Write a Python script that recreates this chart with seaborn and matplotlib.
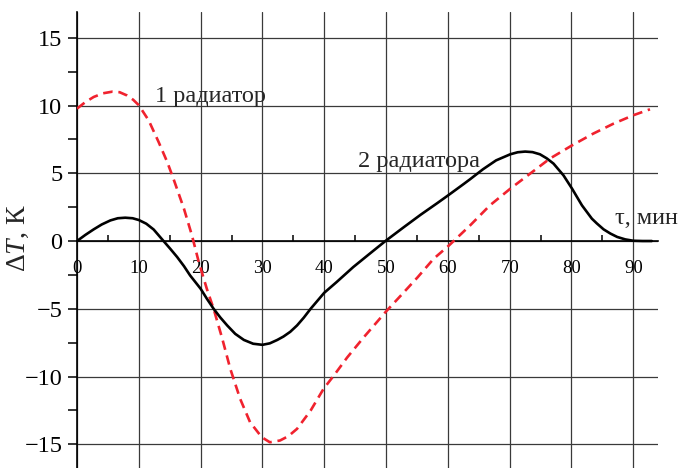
import numpy as np
import pandas as pd
import matplotlib
matplotlib.use("Agg")
import matplotlib.pyplot as plt
import seaborn as sns
from matplotlib.ticker import MultipleLocator

# --- данные ---
# 2 радиатора (сплошная)
t_two = [0, 1.35, 2.7, 4, 5.4, 6.6, 7.8, 9, 10, 11.2, 12.4, 14.0, 15.1, 16.2,
         17.3, 18.3, 20, 21, 22.1, 23.2, 24.3, 25.6, 27, 28.5, 30, 31.2, 32.4,
         33.4, 34.5, 35.6, 36.7, 37.8, 40, 42, 44.7, 47.4, 49.9, 52.9, 55.6,
         58.3, 60.2, 62.6, 63.6, 65.7, 67.8, 70.1, 71.3, 72.5, 73.7, 74.9, 76,
         77.1, 78.7, 80.1, 81.7, 83.3, 84.1, 85.2, 86.3, 87.4, 88.7, 90, 91.5, 93]
dT_two = [0, 0.45, 0.86, 1.22, 1.52, 1.68, 1.72, 1.68, 1.55, 1.28, 0.85, 0.0,
          -0.58, -1.18, -1.85, -2.54, -3.52, -4.25, -5.0, -5.65, -6.23, -6.85,
          -7.3, -7.58, -7.66, -7.55, -7.3, -7.05, -6.7, -6.23, -5.65, -5.0,
          -3.82, -3.03, -1.92, -0.92, 0, 1.03, 1.94, 2.8, 3.42, 4.22, 4.56,
          5.3, 5.95, 6.4, 6.55, 6.6, 6.56, 6.4, 6.1, 5.71, 4.85, 3.86, 2.63,
          1.65, 1.3, 0.86, 0.55, 0.3, 0.12, 0.02, 0.0, 0.0]

# 1 радиатор (штриховая)
t_one = [0, 1.35, 2.7, 4.2, 5.7, 6.9, 8.1, 9.1, 10, 11.6, 13.2, 14.6, 15.6,
         17.3, 18.6, 19.7, 21.0, 22.1, 23.5, 24.8, 26.4, 28.0, 29.9, 31.2,
         32.85, 34.2, 35.6, 37.8, 39.9, 41.6, 43.7, 46.4, 50, 52.4, 55.1, 57.7,
         60.2, 63.6, 66.8, 70.1, 73.3, 76.5, 80.1, 83.5, 86.8, 90, 92.7]
dT_one = [9.77, 10.25, 10.63, 10.9, 11.02, 10.98, 10.74, 10.42, 10.02, 8.9,
          7.31, 5.83, 4.6, 2.39, 0.41, -1.55, -3.52, -5.0, -7.2, -9.43, -11.65,
          -13.37, -14.48, -14.85, -14.72, -14.4, -13.86, -12.51, -10.9, -9.9,
          -8.6, -7.1, -5.2, -4.02, -2.68, -1.31, -0.32, 1.15, 2.63, 3.86, 4.97,
          6.08, 7.06, 7.92, 8.66, 9.28, 9.72]

x_major = [0, 10, 20, 30, 40, 50, 60, 70, 80, 90]
y_major = [-15, -10, -5, 0, 5, 10, 15]

# --- оформление ---
sns.set_theme(style="white")
plt.rcParams['font.family'] = ['Liberation Serif', 'DejaVu Serif']
plt.rcParams['mathtext.fontset'] = 'custom'
plt.rcParams['mathtext.rm'] = 'Liberation Serif'
plt.rcParams['mathtext.it'] = 'Liberation Serif:italic'

fig = plt.figure(figsize=(6.86, 4.68), dpi=100)
ax = fig.add_axes([77 / 686, 0, 581 / 686, 456 / 468])

df_one = pd.DataFrame({'t': t_one, 'dT': dT_one})
df_two = pd.DataFrame({'t': t_two, 'dT': dT_two})

sns.lineplot(data=df_one, x='t', y='dT', ax=ax, color='#f0222e', lw=1.9,
             zorder=4)
sns.lineplot(data=df_two, x='t', y='dT', ax=ax, color='black', lw=1.9,
             zorder=5)
red, black = ax.lines[0], ax.lines[1]
red.set_dashes((3.6, 2.2))
red.set_dash_capstyle('butt')
black.set_solid_joinstyle('round')
black.set_solid_capstyle('round')

ax.set_xlim(0, 94)
ax.set_ylim(-16.75, 16.9)

ax.set_xticks(x_major)
ax.set_yticks(y_major)
ax.xaxis.set_minor_locator(MultipleLocator(5))
ax.yaxis.set_minor_locator(MultipleLocator(2.5))

ax.grid(True, which='major', color='#3a3a3a', lw=0.9)
ax.set_axisbelow(True)

ax.spines['top'].set_visible(False)
ax.spines['right'].set_visible(False)
ax.spines['bottom'].set_position(('data', 0))
for s in ('left', 'bottom'):
    ax.spines[s].set_color('black')
    ax.spines[s].set_linewidth(1.2)

ax.tick_params(axis='x', which='major', length=0, pad=14, labelsize=13.5,
               colors='black')
ax.tick_params(axis='x', which='minor', direction='in', length=4.5, width=1.1,
               bottom=True, colors='black')
ax.tick_params(axis='y', which='both', direction='out', length=6.5, width=1.1,
               left=True, colors='black')
ax.tick_params(axis='y', which='major', pad=4, labelsize=17.5)
ax.set_xlabel('')
ax.set_ylabel('')

ax.text(-0.1, 0.505, 'Δ$T$, К', transform=ax.transAxes, rotation=90,
        ha='center', va='center', fontsize=20)
ax.text(12.6, 10.25, '1 радиатор', fontsize=17.5, ha='left', va='baseline')
ax.text(45.5, 5.45, '2 радиатора', fontsize=17.5, ha='left', va='baseline')
ax.text(87.1, 1.25, 'τ, мин', fontsize=17.5, ha='left', va='baseline')

plt.savefig('out.png', dpi=100)
